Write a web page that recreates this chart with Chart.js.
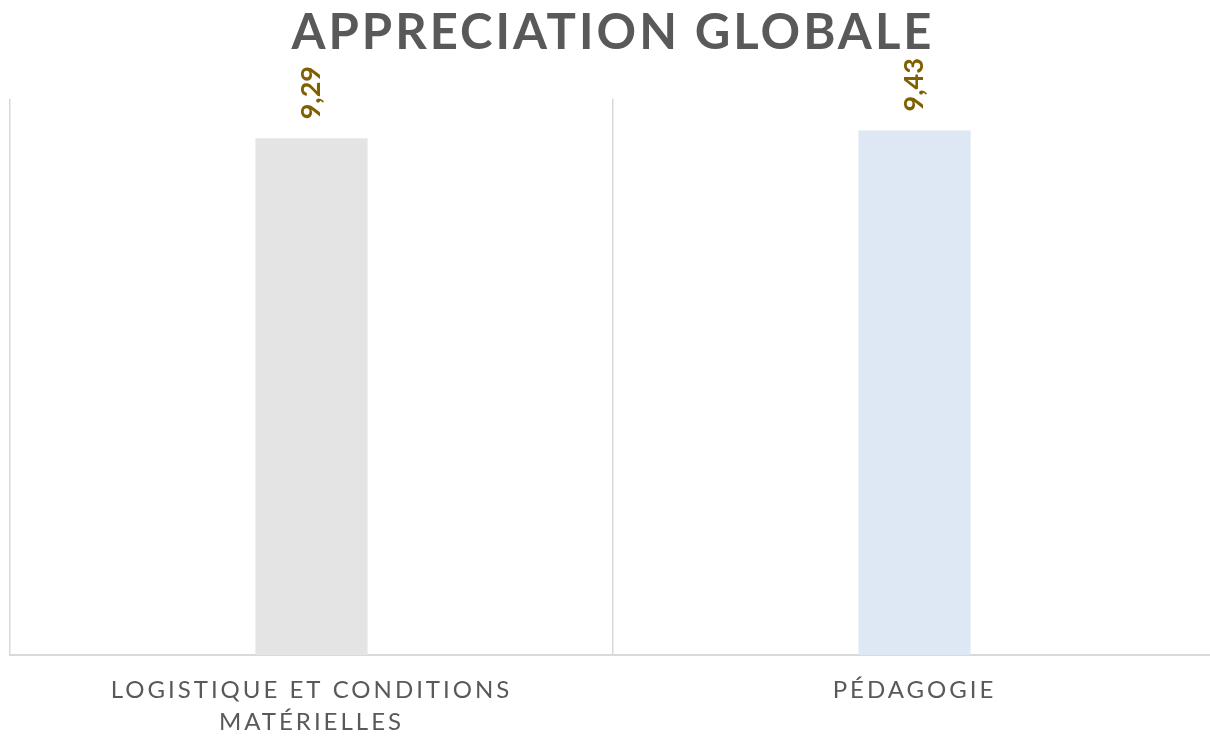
<!DOCTYPE html>
<html>
<head>
<meta charset="utf-8">
<script src="https://cdn.jsdelivr.net/npm/chart.js@4"></script>
<style>
  html, body { margin:0; padding:0; background:#fff; overflow:hidden; }
  #wrap { position:relative; width:1216px; height:757px; }
</style>
</head>
<body>
<div id="wrap"><canvas id="chart"></canvas></div>
<script>
// ── Data ──────────────────────────────────────────────────────────────────────
const categories = [['LOGISTIQUE ET CONDITIONS', 'MATÉRIELLES'], 'PÉDAGOGIE'];
const scores     = [9.29, 9.43];
const barColors  = ['#e4e4e4', '#dde8f4'];
const chartTitle = 'APPRECIATION GLOBALE';

const fmtFr = v => v.toFixed(2).replace('.', ',');

// letter spacing for title + axis labels (Chart.js has no option for it)
const spacingPlugin = {
  id: 'spacing',
  beforeDraw(chart) { chart.ctx.letterSpacing = '3px'; },
  afterDraw(chart)  { chart.ctx.letterSpacing = '0px'; }
};

// rotated value labels above each bar
const valueLabels = {
  id: 'valueLabels',
  afterDatasetsDraw(chart) {
    const ctx = chart.ctx;
    const meta = chart.getDatasetMeta(0);
    meta.data.forEach((bar, i) => {
      ctx.save();
      ctx.letterSpacing = '0px';
      ctx.translate(bar.x, bar.y - 19);
      ctx.rotate(-Math.PI / 2);
      ctx.font = 'bold 27px Lato';
      ctx.fillStyle = '#7f6000';
      ctx.textAlign = 'left';
      ctx.textBaseline = 'middle';
      ctx.fillText(fmtFr(scores[i]), 0, 0);
      ctx.restore();
    });
  }
};

new Chart(document.getElementById('chart'), {
  type: 'bar',
  data: {
    labels: categories,
    datasets: [{
      data: scores,
      backgroundColor: barColors,
      borderWidth: 0,
      categoryPercentage: 1,
      barPercentage: 0.186
    }]
  },
  options: {
    responsive: true,
    maintainAspectRatio: false,
    animation: false,
    layout: { padding: { left: 10, right: 0, top: 0, bottom: 0 } },
    plugins: {
      legend: { display: false },
      tooltip: { enabled: false },
      title: {
        display: true,
        text: chartTitle,
        color: '#595959',
        font: { family: 'Lato', size: 49, weight: 'bold' },
        padding: { top: 4, bottom: 36 }
      }
    },
    scales: {
      x: {
        offset: true,
        grid: { display: true, offset: true, color: '#d9d9d9', lineWidth: 1.5, drawTicks: false },
        border: { display: true, color: '#d9d9d9', width: 2 },
        ticks: {
          color: '#595959',
          font: { family: 'Lato', size: 24, lineHeight: 1.33 },
          padding: 19,
          maxRotation: 0,
          autoSkip: false
        }
      },
      y: {
        display: false,
        min: 0,
        max: 10
      }
    }
  },
  plugins: [spacingPlugin, valueLabels]
});
</script>
</body>
</html>
